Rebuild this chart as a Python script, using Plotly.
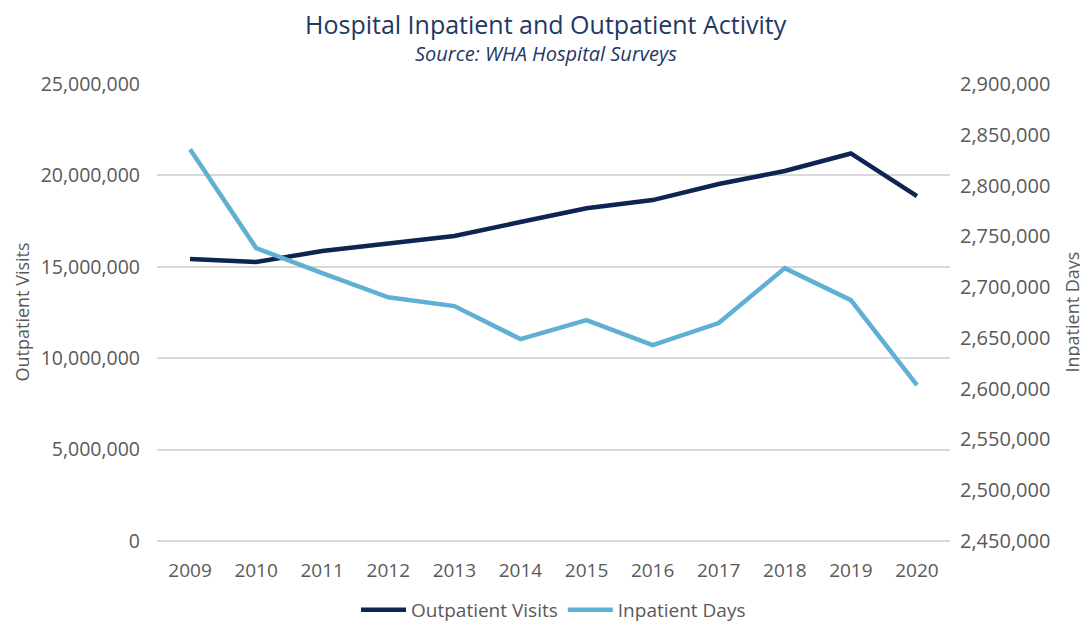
import plotly.graph_objects as go

years = ["2009", "2010", "2011", "2012", "2013", "2014", "2015", "2016", "2017", "2018", "2019", "2020"]
outpatient_visits = [15430000, 15260000, 15860000, 16300000, 16690000, 17450000,
                     18200000, 18650000, 19530000, 20240000, 21200000, 18870000]
inpatient_days = [2835800, 2738400, 2713800, 2690000, 2681300, 2648800,
                  2667500, 2642900, 2664600, 2718700, 2687200, 2603500]

NAVY = "#0e2452"
LIGHT = "#5fb0d2"
TEXT = "#595959"
TITLE = "#1f3864"
FONT = "Open Sans"

fig = go.Figure()
fig.add_trace(go.Scatter(
    x=years, y=outpatient_visits, name="Outpatient Visits", mode="lines",
    line={"color": NAVY, "width": 4.5},
))
fig.add_trace(go.Scatter(
    x=years, y=inpatient_days, name="Inpatient Days", mode="lines",
    line={"color": LIGHT, "width": 4.5}, yaxis="y2",
))

# page body has an 8px margin, so the figure is sized to fit inside it
fig.update_layout(
    width=1080,
    height=616,
    margin={"l": 149, "r": 138, "t": 76, "b": 83, "autoexpand": False},
    paper_bgcolor="white",
    plot_bgcolor="white",
    font={"family": FONT, "color": TEXT, "size": 18},
    showlegend=True,
    legend={
        "orientation": "h", "x": 0.5, "xanchor": "center",
        "y": -0.151, "yanchor": "middle",
        "font": {"size": 19, "color": TEXT},
        "itemwidth": 45, "tracegroupgap": 0,
    },
    xaxis={
        "type": "category", "range": [-0.5, 11.5], "showgrid": False, "ticks": "",
        "showline": False, "automargin": False, "ticklabelstandoff": 16,
        "tickfont": {"size": 19, "color": TEXT},
    },
    yaxis={
        "range": [0, 25000000], "dtick": 5000000, "tickformat": ",d",
        "gridcolor": "#d9d9d9", "gridwidth": 1.5, "zeroline": True,
        "zerolinecolor": "#d9d9d9", "zerolinewidth": 1.5,
        "ticks": "", "ticklabelstandoff": 16, "automargin": False,
        "tickfont": {"size": 19.5, "color": TEXT},
    },
    yaxis2={
        "range": [2450000, 2900000], "dtick": 50000, "tickformat": ",d",
        "overlaying": "y", "side": "right", "showgrid": False, "zeroline": False,
        "ticks": "", "ticklabelstandoff": 9, "automargin": False,
        "tickfont": {"size": 20, "color": TEXT},
    },
    annotations=[
        {"text": "Hospital Inpatient and Outpatient Activity", "xref": "paper", "yref": "paper",
         "x": 0.49, "y": 1.0, "yshift": 60, "yanchor": "middle", "xanchor": "center",
         "showarrow": False, "font": {"size": 25, "color": TITLE, "family": FONT}},
        {"text": "<i>Source: WHA Hospital Surveys</i>", "xref": "paper", "yref": "paper",
         "x": 0.49, "y": 1.0, "yshift": 31, "yanchor": "middle", "xanchor": "center",
         "showarrow": False, "font": {"size": 20, "color": TITLE, "family": FONT}},
        {"text": "Outpatient Visits", "xref": "paper", "yref": "paper",
         "x": 0, "xshift": -136, "y": 0.5, "xanchor": "center", "yanchor": "middle",
         "showarrow": False, "textangle": -90,
         "font": {"size": 18, "color": TEXT, "family": FONT}},
        {"text": "Inpatient Days", "xref": "paper", "yref": "paper",
         "x": 1, "xshift": 121, "y": 0.5, "xanchor": "center", "yanchor": "middle",
         "showarrow": False, "textangle": -90,
         "font": {"size": 18, "color": TEXT, "family": FONT}},
    ],
)

fig.write_html("out.html")
